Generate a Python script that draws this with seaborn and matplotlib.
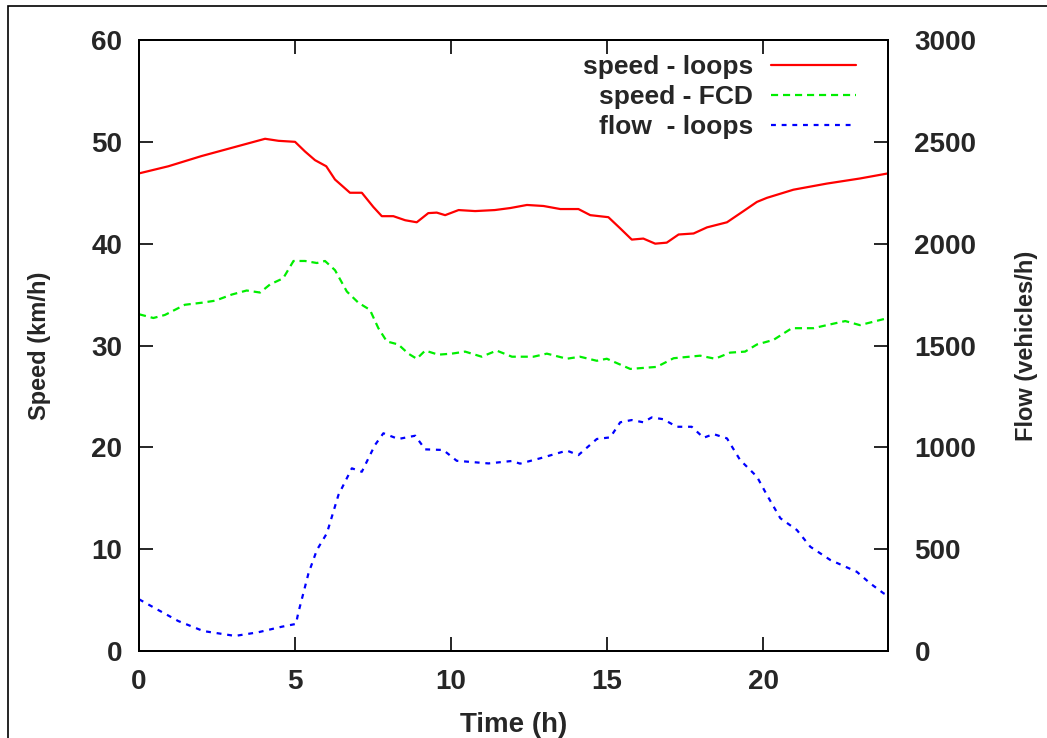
import numpy as np
import pandas as pd
import seaborn as sns
import matplotlib.pyplot as plt
from matplotlib.patches import Rectangle

# speed measured by loops (km/h)
loops_t = [0.0, 0.94, 2.0, 3.08, 4.04, 4.47, 5.0, 5.32, 5.64, 6.0, 6.28, 6.76, 7.14, 7.51,
           7.78, 8.15, 8.53, 8.9, 9.27, 9.54, 9.81, 10.24, 10.77, 11.4, 11.9, 12.43, 12.96,
           13.5, 14.08, 14.46, 15.04, 15.42, 15.79, 16.16, 16.54, 16.91, 17.29, 17.77, 18.2,
           18.84, 19.37, 19.8, 20.12, 20.97, 22.04, 23.1, 24.0]
loops_speed = [46.9, 47.6, 48.6, 49.5, 50.3, 50.1, 50.0, 49.05, 48.2, 47.6, 46.3, 45.0, 45.0, 43.6,
               42.7, 42.7, 42.3, 42.1, 43.0, 43.05, 42.8, 43.3, 43.2, 43.3, 43.5, 43.8, 43.7,
               43.4, 43.4, 42.8, 42.6, 41.5, 40.4, 40.5, 40.0, 40.1, 40.9, 41.0, 41.6,
               42.1, 43.2, 44.1, 44.5, 45.3, 45.9, 46.4, 46.9]

# speed measured by floating car data (km/h)
fcd_t = [0.0, 0.46, 0.83, 1.47, 2.01, 2.44, 2.97, 3.45, 3.88, 4.2, 4.62, 4.95, 5.32, 5.7, 5.96,
         6.28, 6.66, 7.03, 7.4, 7.67, 7.94, 8.31, 8.63, 8.9, 9.17, 9.59, 10.02, 10.45, 10.98,
         11.46, 11.95, 12.64, 13.07, 13.71, 14.13, 14.67, 14.99, 15.74, 16.59, 17.13, 17.98,
         18.46, 18.94, 19.42, 19.8, 20.33, 20.92, 21.61, 22.04, 22.63, 23.1, 24.0]
fcd_speed = [33.07, 32.7, 33.0, 34.0, 34.2, 34.4, 35.0, 35.4, 35.2, 36.0, 36.6, 38.3, 38.3, 38.1, 38.3,
             37.4, 35.3, 34.2, 33.5, 31.7, 30.4, 30.1, 29.2, 28.7, 29.5, 29.1, 29.2, 29.4, 28.9,
             29.5, 28.9, 28.9, 29.2, 28.7, 28.9, 28.5, 28.7, 27.7, 27.9, 28.75, 29.0,
             28.7, 29.3, 29.4, 30.1, 30.55, 31.7, 31.7, 32.0, 32.4, 32.0, 32.7]

# flow measured by loops (vehicles/h)
flow_t = [0.0, 0.62, 1.26, 2.06, 3.08, 3.82, 4.57, 5.03, 5.1, 5.43, 5.7, 6.02, 6.39, 6.82, 7.14,
          7.56, 7.83, 8.31, 8.85, 9.17, 9.75, 10.18, 11.2, 11.95, 12.21, 12.85, 13.71, 14.08,
          14.67, 15.1, 15.42, 15.79, 16.16, 16.43, 16.8, 17.23, 17.71, 18.09, 18.41, 18.84,
          19.26, 19.8, 20.12, 20.55, 21.08, 21.51, 22.15, 23.0, 23.43, 23.86, 24.0]
flow = [254, 201, 147, 98, 74, 92, 119, 133, 185, 381, 496, 578, 766, 897, 880,
        1011, 1069, 1041, 1057, 990, 987, 934, 921, 933, 920, 946, 984, 962,
        1041, 1049, 1123, 1134, 1123, 1147, 1138, 1101, 1101, 1047, 1065, 1044,
        938, 856, 766, 652, 594, 512, 447, 389, 332, 283, 273]

speed_ticks = [0, 10, 20, 30, 40, 50, 60]
flow_ticks = [0, 500, 1000, 1500, 2000, 2500, 3000]
time_ticks = [0, 5, 10, 15, 20]

sns.set_theme(style="white")
plt.rcParams['font.family'] = ['Liberation Sans', 'DejaVu Sans']
plt.rcParams['font.weight'] = 'bold'

fig = plt.figure(figsize=(10.47, 7.38), dpi=100)
ax = fig.add_axes([139 / 1047, 1 - 651 / 738, 749 / 1047, 611 / 738])
ax2 = ax.twinx()

sns.lineplot(x=loops_t, y=loops_speed, ax=ax, color='#ff0000', lw=1.6, label='speed - loops')
sns.lineplot(x=fcd_t, y=fcd_speed, ax=ax, color='#00ee00', lw=1.6, ls=(0, (3.2, 2.2)),
             label='speed - FCD')
sns.lineplot(x=flow_t, y=flow, ax=ax2, color='#0000ff', lw=1.6, ls=(0, (2.2, 2.6)),
             label='flow  - loops')
ax.get_legend().remove()
ax2.get_legend().remove()

ax.set_xlim(0, 24)
ax.set_ylim(0, 60)
ax2.set_ylim(0, 3000)
ax.set_xticks(time_ticks)
ax.set_yticks(speed_ticks)
ax2.set_yticks(flow_ticks)

for a in (ax, ax2):
    for s in a.spines.values():
        s.set_visible(True)
        s.set_color('black')
        s.set_linewidth(1.4)
ax.tick_params(axis='x', direction='in', length=10, width=1.4, top=True, bottom=True,
               labelsize=20, pad=13)
ax.tick_params(axis='y', direction='in', length=10, width=1.4, left=True, right=False,
               labelsize=20, pad=12)
ax2.tick_params(axis='y', direction='in', length=10, width=1.4, right=True,
                labelsize=20, pad=19)

ax.set_xlabel('Time (h)', fontsize=20, fontweight='bold', labelpad=12)
ax.set_ylabel('Speed (km/h)', fontsize=17, fontweight='bold', labelpad=29)
ax2.set_ylabel('Flow (vehicles/h)', fontsize=17, fontweight='bold', labelpad=28)

handles = ax.get_lines() + ax2.get_lines()
leg = ax2.legend(handles=handles, labels=[h.get_label() for h in handles],
                 loc='upper right', bbox_to_anchor=(0.957, 0.975), frameon=False,
                 markerfirst=False, fontsize=19, handlelength=3.2, handletextpad=0.7,
                 labelspacing=0.23, borderpad=0, borderaxespad=0)
for t in leg.get_texts():
    t.set_fontweight('bold')

# outer frame of the original figure (left and top edges visible)
fig.patches.append(Rectangle((8 / 1047, -0.1), 1.2, 1 - 6 / 738 + 0.1,
                             transform=fig.transFigure, fill=False,
                             edgecolor='black', linewidth=1.2))

fig.savefig('out.png', dpi=100)
